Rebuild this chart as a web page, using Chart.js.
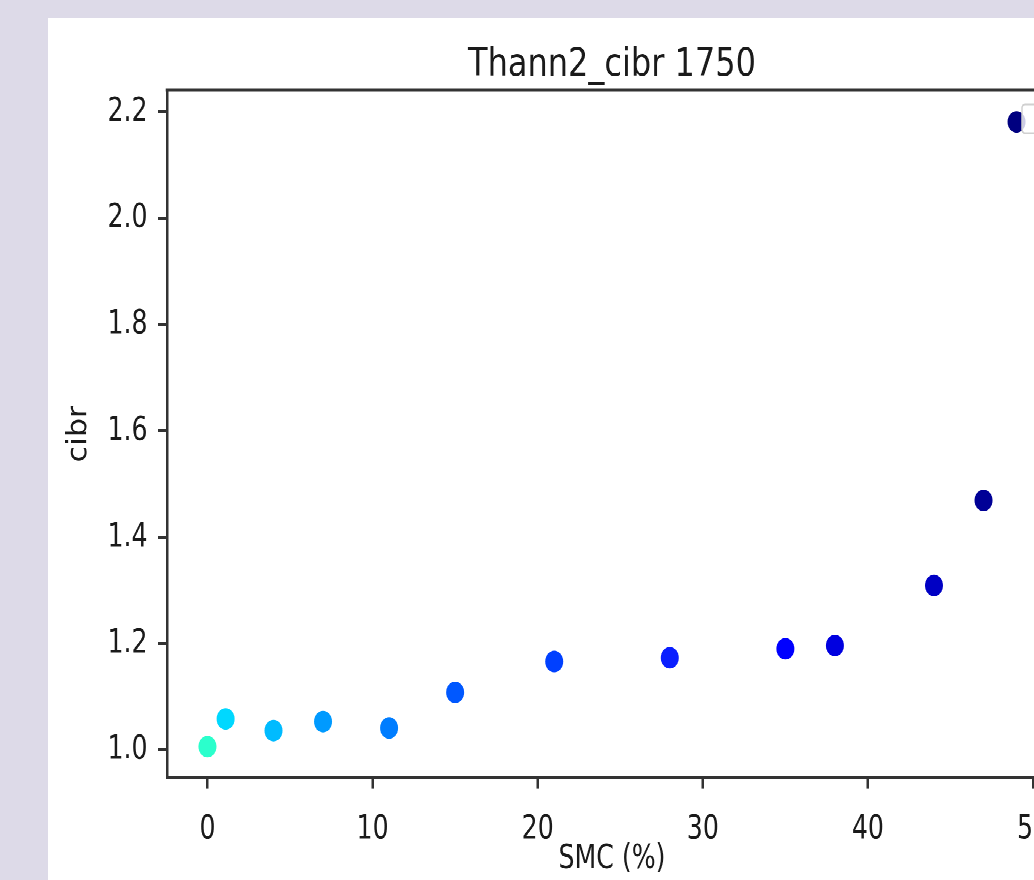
<!DOCTYPE html>
<html>
<head>
<meta charset="utf-8">
<title>Thann2_cibr 1750</title>
<script src="https://cdn.jsdelivr.net/npm/chart.js@4"></script>
<style>
    html, body {
        margin: 0;
        padding: 0;
        width: 1034px;
        height: 880px;
        overflow: hidden;
        background: #dddae8;
    }
    #panel {
        position: absolute;
        left: 48px;
        top: 18px;
        width: 1128px;
        height: 720px;
        background: #ffffff;
        transform: scaleY(1.2);
        transform-origin: 0 0;
    }
</style>
</head>
<body>
<div id="panel">
    <canvas id="myChart" width="1128" height="720"></canvas>
</div>
<script>
// --- Data ---
const smcValues = [0, 1.1, 4, 7, 11, 15, 21, 28, 35, 38, 44, 47, 49];
const cibrValues = [1.006, 1.058, 1.036, 1.053, 1.041, 1.108, 1.166, 1.173, 1.190, 1.196, 1.309, 1.469, 2.181];
const pointColors = [
    '#2bffcc', '#00d8ff', '#00bbff', '#009aff', '#007dff', '#0058ff', '#0040ff',
    '#0a1eff', '#0000ff', '#0000e0', '#0000c4', '#000096', '#000080'
];
const xTicks = [0, 10, 20, 30, 40, 50];
const yTicks = [1.0, 1.2, 1.4, 1.6, 1.8, 2.0, 2.2];
const xRange = [-2.45, 51.45];
const yRange = [0.947, 2.241];

document.addEventListener('DOMContentLoaded', () => {
    const ctx = document.getElementById('myChart').getContext('2d');
    const ink = '#1a1a1a';
    const spine = '#333333';
    const labelFont = { family: "'DejaVu Sans Condensed', 'DejaVu Sans', sans-serif", size: 28, lineHeight: 1.2 };

    // top spine of the axes box
    const topSpine = {
        id: 'topSpine',
        beforeDatasetsDraw(chart) {
            const { ctx, chartArea } = chart;
            ctx.save();
            ctx.strokeStyle = spine;
            ctx.lineWidth = 2.5;
            ctx.beginPath();
            ctx.moveTo(chartArea.left - 1.25, chartArea.top);
            ctx.lineTo(chartArea.right + 1.25, chartArea.top);
            ctx.stroke();
            ctx.restore();
        }
    };

    // empty legend frame in the upper right corner
    const legendFrame = {
        id: 'legendFrame',
        afterDatasetsDraw(chart) {
            const { ctx, chartArea } = chart;
            const x = chartArea.right - 35;
            const y = chartArea.top + 12;
            ctx.save();
            ctx.fillStyle = 'rgba(255, 255, 255, 0.8)';
            ctx.strokeStyle = '#d0d0d0';
            ctx.lineWidth = 1.5;
            ctx.beginPath();
            ctx.roundRect(x, y, 26, 24, 3);
            ctx.fill();
            ctx.stroke();
            ctx.restore();
        }
    };

    const points = smcValues.map((x, i) => ({ x: x, y: cibrValues[i] }));

    new Chart(ctx, {
        type: 'scatter',
        data: {
            datasets: [{
                data: points,
                backgroundColor: pointColors,
                borderWidth: 0,
                pointRadius: 9,
                pointHoverRadius: 9
            }]
        },
        options: {
            responsive: false,
            animation: false,
            devicePixelRatio: 2,
            layout: { padding: 0 },
            plugins: {
                legend: { display: false },
                tooltip: { enabled: false },
                title: {
                    display: true,
                    text: 'Thann2_cibr 1750',
                    color: ink,
                    font: { family: "'DejaVu Sans', sans-serif", size: 32, weight: 'normal', lineHeight: 1.2 },
                    padding: { top: 20.5, bottom: 1.1 }
                }
            },
            scales: {
                x: {
                    type: 'linear',
                    position: 'bottom',
                    min: xRange[0],
                    max: xRange[1],
                    afterBuildTicks: scale => { scale.ticks = xTicks.map(v => ({ value: v })); },
                    afterFit: scale => { scale.height = 86.7; },
                    ticks: { color: ink, font: labelFont, padding: 17, maxRotation: 0, callback: v => String(v) },
                    grid: { drawOnChartArea: false, drawTicks: true, tickLength: 9, color: spine, lineWidth: 2.5 },
                    border: { display: true, color: spine, width: 2.5 },
                    title: { display: true, text: 'SMC (%)', color: ink, font: labelFont, padding: { top: 0, bottom: 2.5 } }
                },
                y: {
                    type: 'linear',
                    position: 'left',
                    min: yRange[0],
                    max: yRange[1],
                    afterBuildTicks: scale => { scale.ticks = yTicks.map(v => ({ value: v })); },
                    afterFit: scale => { scale.width = 119; },
                    ticks: { color: ink, font: labelFont, padding: 10.5, callback: v => v.toFixed(1) },
                    grid: { drawOnChartArea: false, drawTicks: true, tickLength: 9, color: spine, lineWidth: 2.5 },
                    border: { display: true, color: spine, width: 2.5 },
                    title: { display: true, text: 'cibr', color: ink, font: labelFont, padding: { top: 13.7, bottom: 0 } }
                },
                // right spine, keeps the plot area centred under the title
                y2: {
                    type: 'linear',
                    position: 'right',
                    min: yRange[0],
                    max: yRange[1],
                    afterFit: scale => { scale.width = 119; },
                    ticks: { display: false },
                    grid: { display: false },
                    border: { display: true, color: spine, width: 2.5 }
                }
            }
        },
        plugins: [topSpine, legendFrame]
    });
});
</script>
</body>
</html>
